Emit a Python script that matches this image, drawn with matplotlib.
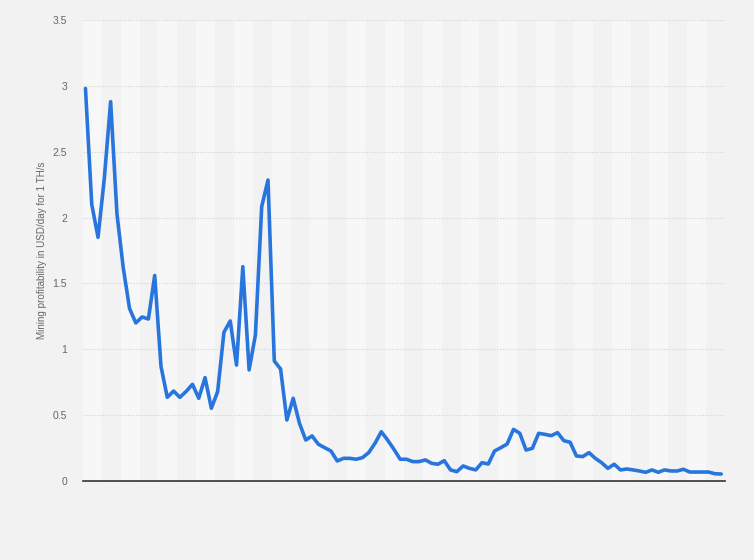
import numpy as np
import matplotlib
matplotlib.use("Agg")
from matplotlib import pyplot as plt

plt.rcParams['font.family'] = ['Liberation Sans', 'DejaVu Sans']

# mining profitability, USD/day for 1 TH/s
profit = [2.98, 2.10, 1.85, 2.30, 2.88, 2.03, 1.62, 1.31, 1.20, 1.245,
          1.23, 1.56, 0.87, 0.635, 0.683, 0.635, 0.68, 0.734, 0.628, 0.785,
          0.552, 0.678, 1.129, 1.215, 0.88, 1.627, 0.843, 1.108, 2.083, 2.285,
          0.911, 0.85, 0.463, 0.628, 0.438, 0.311, 0.342, 0.279, 0.253, 0.228,
          0.152, 0.172, 0.172, 0.165, 0.177, 0.215, 0.286, 0.374, 0.311, 0.241,
          0.165, 0.165, 0.147, 0.147, 0.16, 0.134, 0.127, 0.154, 0.084, 0.071,
          0.114, 0.096, 0.084, 0.139, 0.129, 0.228, 0.253, 0.281, 0.392, 0.362,
          0.235, 0.248, 0.362, 0.354, 0.344, 0.367, 0.306, 0.294, 0.19, 0.185,
          0.215, 0.172, 0.139, 0.096, 0.127, 0.084, 0.091, 0.084, 0.076, 0.066,
          0.084, 0.066, 0.084, 0.076, 0.076, 0.089, 0.068, 0.068, 0.068, 0.068,
          0.055, 0.053]
y_ticks = [0, 0.5, 1, 1.5, 2, 2.5, 3, 3.5]
y_tick_labels = ["0", "0.5", "1", "1.5", "2", "2.5", "3", "3.5"]
ylabel = "Mining profitability in USD/day for 1 TH/s"

x = np.arange(len(profit))
x0 = -0.4
band = 3
nbands = 34

fig = plt.figure(figsize=(7.54, 5.60), dpi=100, facecolor="#f2f2f2")
ax = fig.add_axes([0.110, 0.1411, 0.8515, 0.8232])
ax.set_facecolor("#f2f2f2")

# alternating vertical bands
for k in range(nbands):
    if k % 2 == 0:
        ax.axvspan(x0 + k * band, x0 + (k + 1) * band, color="#f7f7f7", lw=0, zorder=0)

for t in y_ticks[1:]:
    ax.axhline(t, color="#d2d2d2", lw=0.8, ls=(0, (1, 1.5)), zorder=1)

ax.plot(x, profit, color="#2876dd", lw=2.6, solid_joinstyle="round",
        solid_capstyle="round", zorder=3)

ax.set_xlim(x0, x0 + nbands * band)
ax.set_ylim(0, 3.5)
ax.set_yticks(y_ticks)
ax.set_yticklabels(y_tick_labels)
ax.set_xticks([])
ax.tick_params(axis="y", length=0, pad=11.5, labelsize=7.5, labelcolor="#666666")
for s in ["top", "right", "left"]:
    ax.spines[s].set_visible(False)
ax.spines["bottom"].set_color("#333333")
ax.spines["bottom"].set_linewidth(1.2)
ax.spines["bottom"].set_zorder(4)
ax.set_ylabel(ylabel, fontsize=7.1, color="#666666", labelpad=4)

fig.savefig("out.png", dpi=100, facecolor=fig.get_facecolor())
